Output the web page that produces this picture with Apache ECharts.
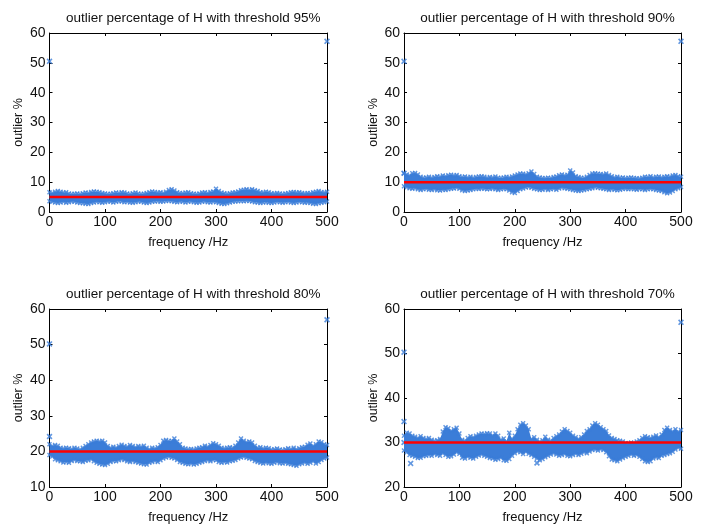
<!DOCTYPE html>
<html>
<head>
<meta charset="utf-8">
<script src="https://cdn.jsdelivr.net/npm/echarts@6/dist/echarts.min.js"></script>
<style>
  html, body { margin: 0; padding: 0; background: #fff; }
  #chart { width: 706px; height: 525px; }
</style>
</head>
<body>
<div id="chart"></div>
<script>
// frequency samples (Hz) where the band edges were read
const freqs = [0,5,10,15,20,25,30,35,40,45,50,55,60,65,70,75,80,85,90,95,
  100,105,110,115,120,125,130,135,140,145,150,155,160,165,170,175,180,185,190,195,
  200,205,210,215,220,225,230,235,240,245,250,255,260,265,270,275,280,285,290,295,
  300,305,310,315,320,325,330,335,340,345,350,355,360,365,370,375,380,385,390,395,
  400,405,410,415,420,425,430,435,440,445,450,455,460,465,470,475,480,485,490,495,500];

const titles = [
  "outlier percentage of H with threshold 95%",
  "outlier percentage of H with threshold 90%",
  "outlier percentage of H with threshold 80%",
  "outlier percentage of H with threshold 70%"
];
const yMins = [0, 0, 10, 20];
const yMaxs = [60, 60, 60, 60];
const meanLevels = [5, 10, 20, 30];

// upper / lower edge of the dense point cloud
const hi1 = [6.6,6.4,6.8,7.0,6.8,6.5,6.6,6.2,6.0,6.1,6.2,6.0,6.3,6.5,6.4,6.7,6.9,6.8,6.6,6.4,
  6.2,6.0,6.1,6.3,6.5,6.4,6.6,6.5,6.2,6.0,6.3,6.5,6.2,6.0,6.1,6.4,6.6,6.9,6.7,6.5,
  6.6,6.4,6.8,7.4,7.6,7.2,6.6,6.4,6.3,6.5,6.6,6.3,6.1,6.0,6.2,6.5,6.6,6.4,6.7,6.9,
  7.8,7.0,6.5,6.3,6.1,6.3,6.5,6.6,6.9,7.3,7.5,7.6,7.4,7.6,7.3,7.0,6.6,6.5,6.8,6.6,
  6.3,6.2,6.4,6.2,6.0,6.2,6.4,6.6,6.7,6.5,6.6,6.4,6.2,6.4,6.3,6.6,6.8,7.0,6.7,6.5,6.8];
const lo1 = [3.6,3.4,3.2,3.0,3.2,3.4,3.1,3.3,3.5,3.4,3.2,3.0,2.9,2.8,2.7,3.0,3.2,3.4,3.3,3.1,
  3.3,3.5,3.4,3.2,3.4,3.6,3.5,3.3,3.4,3.2,3.1,3.3,3.5,3.4,3.2,3.0,3.2,3.4,3.5,3.6,
  3.4,3.5,3.7,3.8,3.6,3.4,3.3,3.5,3.4,3.2,3.4,3.5,3.3,3.1,3.2,3.4,3.5,3.3,3.2,3.4,
  3.3,3.0,2.8,2.7,2.9,3.2,3.4,3.5,3.6,3.7,3.6,3.8,3.7,3.5,3.3,3.2,3.0,3.2,3.3,3.1,
  3.0,3.2,3.4,3.3,3.1,3.3,3.4,3.2,3.0,3.2,3.4,3.3,3.1,3.2,3.0,2.8,2.7,2.9,3.1,3.3,3.5];

const hi2 = [13.0,12.6,12.2,13.0,13.1,12.6,11.8,11.5,11.6,11.8,11.5,11.7,12.0,11.8,12.2,12.0,12.3,12.5,12.2,12.4,
  12.0,11.7,11.9,11.6,11.8,11.5,11.7,11.9,12.0,11.8,11.5,11.7,11.6,11.9,11.5,11.4,11.6,11.8,11.6,11.9,
  12.2,12.6,12.9,12.8,12.6,13.0,13.6,12.7,11.8,11.6,11.4,11.3,11.5,11.4,11.7,11.9,12.3,12.6,12.2,12.5,
  13.9,13.2,12.0,11.7,11.5,11.4,11.8,12.4,12.9,13.0,12.8,12.7,12.6,12.9,12.4,12.0,11.6,11.8,11.5,11.6,
  11.3,11.5,11.6,11.4,11.3,11.2,11.5,11.8,11.7,12.0,11.6,11.8,11.9,11.6,11.8,12.0,11.8,12.2,12.4,12.0,11.8];
const lo2 = [8.6,8.3,8.0,7.8,8.0,7.6,7.4,7.6,7.8,7.5,7.4,7.6,7.3,7.2,7.5,7.4,7.6,7.8,7.9,8.1,
  7.8,7.3,7.0,7.2,7.4,7.6,7.8,7.7,7.9,7.8,7.6,7.7,7.9,7.6,7.4,7.6,7.8,7.6,7.2,6.6,
  6.4,7.0,7.6,7.9,8.2,8.4,8.1,7.8,7.6,7.4,7.5,7.7,7.4,7.6,7.8,7.5,7.9,8.2,8.0,7.8,
  7.6,7.4,7.2,7.0,7.2,7.4,7.6,7.8,8.0,8.3,8.1,8.0,7.8,7.6,7.4,7.6,7.5,7.3,7.5,7.7,
  7.8,7.6,7.8,7.6,7.5,7.7,7.6,7.4,7.6,7.8,7.6,7.4,7.2,7.0,6.6,6.3,6.5,7.0,7.6,8.0,8.4];

const hi3 = [22.0,21.5,21.8,21.6,21.0,20.8,21.0,20.9,20.7,21.0,20.8,20.5,21.0,21.5,22.0,22.5,22.8,23.0,22.8,23.0,
  22.5,21.5,21.0,21.3,21.0,21.5,21.9,21.5,21.3,21.8,21.5,21.2,21.5,21.3,21.6,21.0,20.6,21.0,20.8,21.2,
  21.8,23.0,23.2,22.9,23.0,23.6,22.8,22.0,21.0,20.8,20.6,20.7,20.5,20.8,21.0,21.2,21.6,21.3,21.8,22.3,
  22.0,21.6,21.0,20.8,21.0,21.2,21.0,21.6,22.5,23.6,23.0,22.6,22.8,22.5,21.6,21.0,21.2,20.8,21.0,20.9,
  20.5,20.6,20.8,20.5,20.4,20.6,20.9,20.7,21.0,20.6,20.9,21.2,21.3,21.9,22.2,21.5,22.0,22.8,22.6,22.0,21.8];
const lo3 = [19.0,18.6,17.8,17.5,17.2,16.9,17.0,16.8,17.3,17.6,17.3,17.2,17.0,17.4,17.5,17.8,17.2,16.8,16.5,16.3,
  16.2,16.5,17.0,17.3,17.2,17.5,17.8,17.6,17.2,17.0,17.3,17.0,16.8,16.6,16.4,16.3,16.8,17.0,17.3,17.0,
  17.5,18.0,18.3,18.5,18.2,18.0,17.6,17.0,16.8,16.5,16.4,16.6,16.3,16.5,16.8,17.0,17.3,17.5,17.2,17.6,
  17.5,17.0,16.8,17.0,16.9,17.2,17.4,17.6,18.0,18.3,18.5,18.2,18.0,17.8,17.3,17.0,16.8,16.6,16.9,16.7,
  16.5,16.8,17.0,16.7,16.6,16.8,16.5,16.4,16.2,16.0,16.4,16.6,16.9,16.5,16.8,17.2,16.6,17.0,17.6,18.0,18.3];

const hi4 = [31.5,32.2,32.0,31.5,31.3,31.0,31.4,31.0,30.8,31.0,30.6,30.4,30.5,30.8,32.5,33.4,33.2,32.6,33.0,33.3,
  32.0,30.6,30.4,31.0,31.4,31.2,31.5,31.8,32.0,31.9,32.1,32.0,31.6,32.0,31.5,30.6,30.9,30.3,32.2,30.8,
  31.5,33.0,34.0,34.3,33.8,33.0,30.8,31.2,30.6,30.2,30.5,31.3,30.6,30.4,31.0,31.4,31.8,32.5,33.0,32.6,
  32.2,31.5,31.2,30.8,31.2,31.8,32.6,33.0,33.8,34.3,34.0,33.4,33.0,32.6,31.6,31.0,30.8,30.5,30.4,30.2,
  29.9,29.8,30.0,29.9,30.2,30.5,31.0,31.4,31.2,31.0,31.3,31.6,31.2,31.8,32.8,33.3,32.8,32.5,33.0,32.4,32.8];
const lo4 = [28.2,27.8,27.2,27.0,26.8,26.5,26.6,26.9,27.0,27.2,27.0,27.4,27.2,27.0,27.6,27.2,26.8,26.9,27.3,27.8,
  27.5,26.6,26.4,26.8,26.6,26.4,26.8,27.1,27.3,27.0,26.8,26.5,26.4,26.1,26.3,26.6,26.0,25.9,26.3,27.0,
  27.6,28.0,27.8,27.4,27.9,27.5,27.2,26.8,26.4,26.0,26.3,26.7,27.0,27.3,27.6,27.3,27.0,27.2,27.4,27.0,
  26.9,27.2,27.5,27.2,27.5,27.8,27.6,28.0,28.3,28.4,28.2,28.5,28.3,27.8,26.9,26.2,26.0,25.8,26.2,26.5,
  26.8,27.0,27.3,27.0,27.2,26.8,26.3,25.8,25.6,25.8,26.4,26.7,26.5,27.0,27.2,27.4,27.6,27.9,28.4,28.8,28.6];

// isolated points away from the band: [freq, percent]
const extra1 = [[0, 50.5], [500, 57.2]];
const extra2 = [[0, 50.5], [500, 57.2], [0, 13.0]];
const extra3 = [[0, 50.2], [500, 57.0], [0, 24.2]];
const extra4 = [[0, 50.3], [500, 57.0], [0, 34.7], [0, 30.0], [12, 25.3], [240, 25.4]];

const his = [hi1, hi2, hi3, hi4];
const los = [lo1, lo2, lo3, lo4];
const extras = [extra1, extra2, extra3, extra4];

const BLUE = "#3b7dd8";
const RED = "#ff0000";
const FONT = "Liberation Sans, Arial, sans-serif";
const STAR = "path://M-1,-0.6L-0.6,-1L0,-0.4L0.6,-1L1,-0.6L0.4,0L1,0.6L0.6,1L0,0.4L-0.6,1L-1,0.6L-0.4,0Z";

const boxes = [
  { left: 49.5, top: 33, width: 277.5, height: 179 },
  { left: 404, top: 33, width: 277, height: 179 },
  { left: 49.5, top: 309, width: 277.5, height: 180 },
  { left: 404, top: 309, width: 277, height: 180 }
];

const chart = echarts.init(document.getElementById("chart"), null, { renderer: "canvas" });

const grid = [], xAxis = [], yAxis = [], series = [], title = [];

boxes.forEach((b, i) => {
  grid.push({ left: b.left, top: b.top, width: b.width, height: b.height, containLabel: false });
  title.push({
    text: titles[i],
    left: b.left + b.width / 2,
    top: b.top - 27,
    textAlign: "center",
    textStyle: { fontFamily: FONT, fontSize: 13.5, fontWeight: "normal", color: "#111" }
  });

  const axisLine = { show: true, onZero: false, lineStyle: { color: "#000", width: 1 } };
  const tick = { show: true, inside: true, length: 3, lineStyle: { color: "#000" } };

  // bottom x axis
  xAxis.push({
    type: "value", gridIndex: i, min: 0, max: 500, interval: 100, position: "bottom",
    name: "frequency /Hz", nameLocation: "middle", nameGap: 24,
    nameTextStyle: { fontFamily: FONT, fontSize: 13, color: "#111" },
    axisLine, axisTick: tick, splitLine: { show: false },
    axisLabel: { fontFamily: FONT, fontSize: 14, color: "#111", margin: 3 }
  });
  // top x axis (box)
  xAxis.push({
    type: "value", gridIndex: i, min: 0, max: 500, interval: 100, position: "top",
    axisLine, axisTick: tick, splitLine: { show: false }, axisLabel: { show: false }
  });
  // left y axis
  yAxis.push({
    type: "value", gridIndex: i, min: yMins[i], max: yMaxs[i], interval: 10, position: "left",
    name: "outlier %", nameLocation: "middle", nameGap: 24,
    nameTextStyle: { fontFamily: FONT, fontSize: 12.5, color: "#111" },
    axisLine, axisTick: tick, splitLine: { show: false },
    axisLabel: { fontFamily: FONT, fontSize: 14, color: "#111", margin: 4 }
  });
  // right y axis (box)
  yAxis.push({
    type: "value", gridIndex: i, min: yMins[i], max: yMaxs[i], interval: 10, position: "right",
    axisLine, axisTick: tick, splitLine: { show: false }, axisLabel: { show: false }
  });

  const xi = i * 2, yi = i * 2;
  const hi = his[i], lo = los[i];

  // dense cloud body: one polygon through the upper edge and back along the lower edge
  series.push({
    type: "custom", xAxisIndex: xi, yAxisIndex: yi, clip: true, silent: true,
    data: freqs.map((f, k) => [f, lo[k], hi[k]]),
    encode: { x: 0, y: [1, 2] },
    renderItem: (params, api) => {
      if (params.dataIndex !== 0) return null;
      const upper = freqs.map((f, k) => api.coord([f, hi[k]]));
      const lower = freqs.map((f, k) => api.coord([f, lo[k]])).reverse();
      return {
        type: "polygon",
        shape: { points: upper.concat(lower) },
        style: { fill: BLUE }
      };
    }
  });
  // point-like jagged edges
  series.push({
    type: "scatter", xAxisIndex: xi, yAxisIndex: yi, silent: true,
    symbol: STAR, symbolSize: 5, clip: false,
    itemStyle: { color: BLUE },
    data: freqs.map((f, k) => [f, hi[k]])
  });
  series.push({
    type: "scatter", xAxisIndex: xi, yAxisIndex: yi, silent: true,
    symbol: STAR, symbolSize: 5, clip: false,
    itemStyle: { color: BLUE },
    data: freqs.map((f, k) => [f, lo[k]])
  });
  series.push({
    type: "scatter", xAxisIndex: xi, yAxisIndex: yi, silent: true,
    symbol: STAR, symbolSize: 6, clip: false,
    itemStyle: { color: BLUE },
    data: extras[i]
  });
  series.push({
    type: "line", xAxisIndex: xi, yAxisIndex: yi, silent: true,
    symbol: "none",
    lineStyle: { color: RED, width: 2.5 },
    data: [[0, meanLevels[i]], [500, meanLevels[i]]],
    z: 5
  });
});

chart.setOption({
  animation: false,
  backgroundColor: "#fff",
  title, grid, xAxis, yAxis, series
});
</script>
</body>
</html>
